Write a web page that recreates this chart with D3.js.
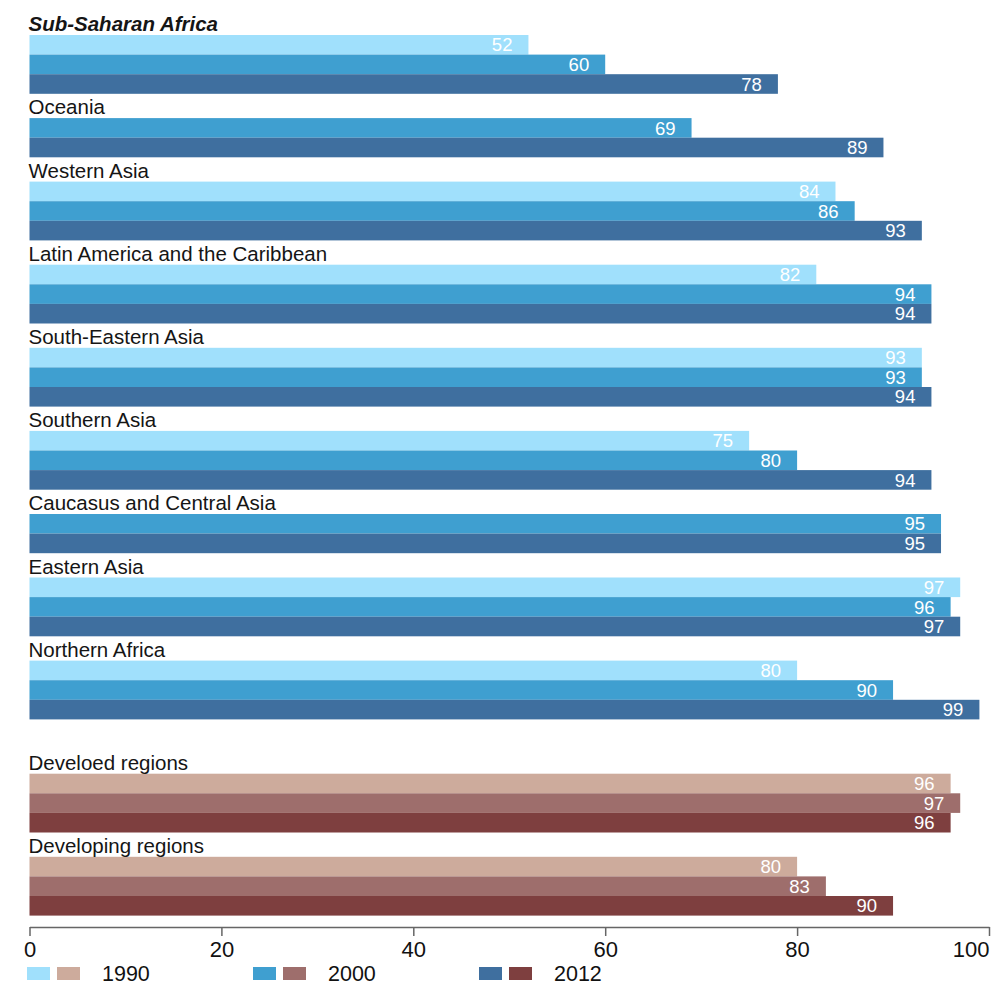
<!DOCTYPE html>
<html>
<head>
<meta charset="utf-8">
<script src="https://cdn.jsdelivr.net/npm/d3@7"></script>
<style>
  html, body { margin: 0; padding: 0; background: #fff; }
  svg { display: block; font-family: "Liberation Sans", Arial, Helvetica, sans-serif; }
</style>
</head>
<body>
<svg id="chart" width="994" height="985"></svg>
<script>
// Regions, top to bottom
const regions = [
  "Sub-Saharan Africa",
  "Oceania",
  "Western Asia",
  "Latin America and the Caribbean",
  "South-Eastern Asia",
  "Southern Asia",
  "Caucasus and Central Asia",
  "Eastern Asia",
  "Northern Africa",
  "Develoed regions",
  "Developing regions"
];
const years = ["1990", "2000", "2012"];

// Values per year (null = no data)
const values1990 = [52, null, 84, 82, 93, 75, null, 97, 80, 96, 80];
const values2000 = [60, 69, 86, 94, 93, 80, 95, 96, 90, 97, 83];
const values2012 = [78, 89, 93, 94, 94, 94, 95, 97, 99, 96, 90];

// Aggregate groups use the brown palette; one region is emphasised
const aggregateRegions = ["Develoed regions", "Developing regions"];
const highlightRegion = "Sub-Saharan Africa";

const tickValues = [0, 20, 40, 60, 80, 100];

// Styling
const regionalColors = ["#a0e0fc", "#3f9fd0", "#3f6f9f"];
const aggregateColors = ["#cdab9c", "#9e6e6c", "#7e3f3f"];
const fontStack = '"Liberation Sans", Arial, Helvetica, sans-serif';

// Layout
const firstBarTop = 35;
const barStep = 19.6;
const groupGap = 24.3;
const sectionGap = 30;
const axisY = 927;

const svg = d3.select("#chart");
const x = d3.scaleLinear().domain([0, 100]).range([29.5, 989]);

// Stack the groups vertically, skipping missing years
const series = [values1990, values2000, values2012];
const groups = [];
let cursor = firstBarTop;
regions.forEach((name, i) => {
  const aggregate = aggregateRegions.includes(name);
  if (i > 0) cursor += groupGap;
  if (aggregate && i > 0 && !aggregateRegions.includes(regions[i - 1])) cursor += sectionGap;
  const bars = [];
  years.forEach((year, j) => {
    const v = series[j][i];
    if (v == null) return;
    bars.push({ year, idx: j, value: v, y: cursor, aggregate });
    cursor += barStep;
  });
  groups.push({ name, aggregate, top: bars[0].y, bars });
});

const allBars = groups.flatMap(g => g.bars);

// Bars
svg.append("g")
  .selectAll("rect")
  .data(allBars)
  .join("rect")
  .attr("x", x(0))
  .attr("y", d => d.y)
  .attr("width", d => x(d.value) - x(0))
  .attr("height", barStep)
  .attr("fill", d => (d.aggregate ? aggregateColors : regionalColors)[d.idx]);

// Value labels inside bar ends
svg.append("g")
  .selectAll("text")
  .data(allBars)
  .join("text")
  .attr("x", d => x(d.value) - 16)
  .attr("y", d => d.y + barStep / 2)
  .attr("dy", "0.36em")
  .attr("text-anchor", "end")
  .attr("font-size", 18.5)
  .attr("fill", "#ffffff")
  .text(d => d.value);

// Group titles
svg.append("g")
  .selectAll("text")
  .data(groups)
  .join("text")
  .attr("x", x(0) - 1)
  .attr("y", d => d.top - 4)
  .attr("font-size", 20.5)
  .attr("fill", "#151515")
  .attr("font-weight", d => d.name === highlightRegion ? "bold" : "normal")
  .attr("font-style", d => d.name === highlightRegion ? "italic" : "normal")
  .text(d => d.name);

// X axis
const axis = d3.axisBottom(x)
  .tickValues(tickValues)
  .tickSize(9)
  .tickSizeOuter(0)
  .tickPadding(5)
  .tickFormat(d3.format("d"));

const axisG = svg.append("g")
  .attr("transform", `translate(0,${axisY})`)
  .call(axis)
  .attr("font-family", fontStack)
  .attr("font-size", 22);

axisG.select(".domain").attr("stroke", "#666").attr("stroke-width", 1.5);
axisG.selectAll(".tick line").attr("stroke", "#666").attr("stroke-width", 1.5);
axisG.selectAll(".tick text").attr("fill", "#111");
axisG.selectAll(".tick text")
  .filter(d => d === tickValues[tickValues.length - 1])
  .attr("text-anchor", "end");

// Legend
const legendStart = 27;
const legendStep = 226;
const legend = svg.append("g")
  .selectAll("g")
  .data(years)
  .join("g")
  .attr("transform", (d, i) => `translate(${legendStart + i * legendStep},967)`);

legend.append("rect")
  .attr("x", 0).attr("y", 0)
  .attr("width", 23).attr("height", 13)
  .attr("fill", (d, i) => regionalColors[i]);

legend.append("rect")
  .attr("x", 30).attr("y", 0)
  .attr("width", 23).attr("height", 13)
  .attr("fill", (d, i) => aggregateColors[i]);

legend.append("text")
  .attr("x", 75)
  .attr("y", 13.5)
  .attr("font-size", 21.5)
  .attr("fill", "#111")
  .text(d => d);
</script>
</body>
</html>
